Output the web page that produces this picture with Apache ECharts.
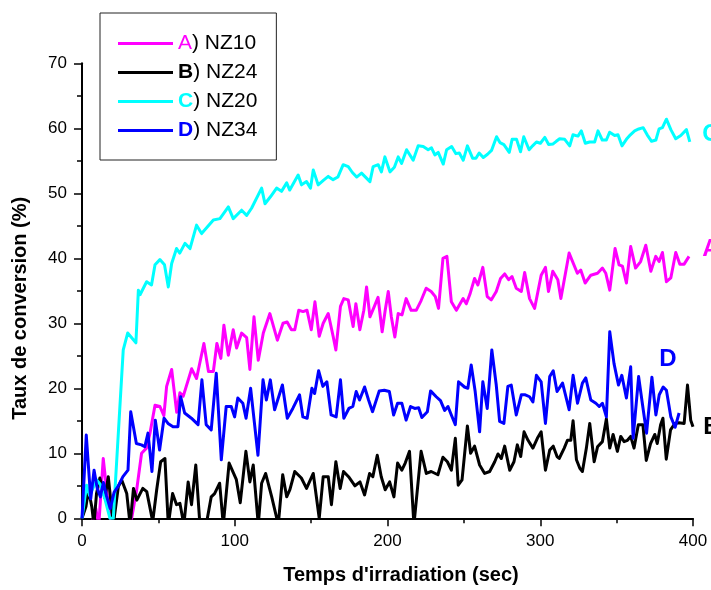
<!DOCTYPE html>
<html>
<head>
<meta charset="utf-8">
<script src="https://cdn.jsdelivr.net/npm/echarts@6/dist/echarts.min.js"></script>
<style>html,body{margin:0;padding:0;background:#fff;}#c{width:711px;height:590px;}</style>
</head>
<body>
<div id="c"></div>
<script>
// ---- data ----
const xTicks = [0, 100, 200, 300, 400];
const yTicks = [0, 10, 20, 30, 40, 50, 60, 70];
const seriesNames = ['NZ10', 'NZ24', 'NZ20', 'NZ34'];
const seriesLetters = ['A', 'B', 'C', 'D'];

// A) NZ10 (magenta)
const aX = [0,5,7.4,9,11,13.9,17.1,19.3,22,26,30.3,32.5,35.8,39,42.2,44.5,47.8,51,53.6,55.4,58.7,62,64.1,66.3,71.8,75,79.8,82.8,86,88.3,90.9,92.9,95.8,99,101.2,104.5,107.8,109.9,112.6,115.4,118.7,123,127.9,131.6,134.3,137.1,139.3,141.9,144.7,147.3,150.1,152.5,155.3,157.9,161.2,164.4,166.2,169.2,171.4,174.3,177.5,179.3,181.9,184.5,186.3,188.5,191.2,193.8,196.5,198.5,200.5,202.5,204.8,207,209.5,212.2,215.5,218.8,222,225.3,228.6,231.3,233.4,236.3,238.9,241.8,245.1,249.5,251.6,254,257,259.2,262.4,265.3,267.9,271.2,274,276.7,279.3,281.5,284.3,287.6,289.8,293,296.3,300.6,303.4,305.4,308.2,311.5,313.5,318.9,324.3,326.5,329.4,333.1,337.5,340.7,342.9,345.5,349,351.6,353.8,356.4,359.2,362.4,365.7,369.1,372.4,375.6,377.8,380,382.6,385.5,388.7,391.4,394.2,397.4];
const aY = [-3,-2,0,1.5,-1,9.2,2.3,-1,-3,-2,-1,0,4.4,10,10.8,13.1,17.4,17.2,15.8,20.3,22.9,16.3,19.3,18.8,23,21.5,26.9,22.6,22.6,26.9,24.6,29.7,25.1,29,26.2,28.5,27.8,22.9,31,24.3,28.5,31.5,27.4,30,30.2,29,29,32,31.8,32,29,33.3,28,30,31.5,28,25.9,32.6,33.8,33.6,29.5,33,29,32,35.6,31,32.5,34,28.7,32,34.9,31,27.9,31.5,31.3,33.8,32,32,33.5,35.4,34.9,34.1,32.3,40,40.3,33.3,32,33.8,33,34.5,36.9,35.9,38.6,34.1,33.6,34.9,36.9,37.6,36.7,37.2,35.4,34.9,37.8,33.8,32.3,37.4,38.6,34.9,38,36.7,33.8,40.8,37.7,38.2,36.2,37.4,37.7,38.5,37.7,35.1,41.5,39,38.8,36.2,41.8,38.5,39.5,42,38,40.3,39.5,40.9,36.4,37,40.9,39.1,39.1,40.3];

// B) NZ24 (black)
const bX = [0,2.6,4.2,6.4,7.8,9.5,11.7,15,17.2,20.5,23.8,26,29.3,31.5,33.7,35.9,39.8,42.4,46.3,48.9,51.5,54.3,56.5,59.3,61.9,64.1,66.7,69.5,71.7,74.5,77.2,81.3,84.6,86.8,90.1,92.5,96.3,101,103.6,107.3,109.9,112.1,115.4,117.6,120.2,124.2,128.5,131.4,134,136.1,139.3,143.6,147,151.4,155.3,157.9,161.2,163.3,166.2,169,171.2,174.5,178.7,182,185,188.3,190.4,193.3,195.9,198.5,201.4,204.2,206.6,209.4,211.6,214.4,217.3,222,225.4,228.6,233,236.3,239.2,241.8,244.4,246.3,248.8,252.3,254.4,257,260.3,263.6,266.9,270.2,272.3,274.5,276.7,280,282.8,285,287.2,289.4,292,295.2,298.1,300.6,303.4,306.2,308.5,311,312.4,315.7,317.8,320,321.5,323.7,325.9,327.6,330.2,332.4,335.3,337.5,340.7,343.3,345.5,347.7,350.5,352.7,354.9,357.1,359.2,361.4,364.2,367.2,369.4,372.2,375,376.6,378.8,380.3,382.5,385.3,388.2,390.9,394.2,396.4,398.5,400];
const bY = [0,1.8,4.4,1.8,-1,3.8,6.2,3.1,6.4,-1,4.9,5.9,3.8,-1,4.6,2.8,4.6,4.1,-0.5,4.4,8.7,9.2,-1,3.8,2.1,2.3,-1,5.6,2.1,8.2,-1,-1,3.3,3.8,5.4,-1,8.5,6,2.4,10.3,5.6,8.2,-1,5.4,6.9,3.3,-1,6.7,3.3,4.4,7.2,6.2,4.6,6.9,0,6.4,6.4,2.1,8.7,4.6,7.2,6.4,5,5.6,3.6,6.9,6.4,9.7,6.4,4.4,5.6,3.3,8.5,7.4,8.5,10.3,-1,10.3,6.9,7.2,6.7,9.4,8.7,7.4,12.3,5.1,5.9,14.2,10,11.1,8.2,6.9,7.2,8.7,9.9,9.2,11.1,7.4,8.7,11.3,9.5,13.3,12,10.8,12.3,13.3,7.4,10.5,11.1,9.5,9.2,10.8,12,12,15,9,7.7,7.2,10.8,14.6,8.7,11,11.8,15.3,10.8,12.9,10.3,12.6,11.8,12,12.6,10.8,14.4,14.4,8.9,11.5,12.9,11.5,14.4,15.4,9.1,13.6,14.6,14.7,14.6,20.5,15.1,14.1];

// C) NZ20 (cyan)
const cX = [0,3,5,9.6,12,15,18.3,20.5,27,29.9,35.3,36.9,38,42.3,45.5,47.8,51,54,56.5,58.7,61.9,64,67.4,70.7,75,78.3,82,86,90.3,95.8,99,104.5,107.8,111,117.6,119.8,123.5,127.4,130.6,134,136,141.5,143.7,147,149.6,151.4,154.6,158,161.2,164.4,167.5,171,174.3,177,179.8,183,188.5,190.6,193.9,196,198.3,201.6,204.5,207,209.2,212.5,216.8,220.1,223.4,226.6,228.8,231,233.2,236.5,238.7,242,244.8,247,249.6,252.3,255.7,257.9,260,262.7,265.5,268.1,271.4,273.6,276.2,279.7,281.6,284.5,287.1,289.2,292.7,295,297.5,300.1,303,305.5,308.4,310.5,312.7,316,319.3,321.4,324.7,326.9,329.5,332.3,335.6,337.8,340.6,343.3,345.4,348.7,350.9,353.5,356.4,359,361.8,364.5,367.4,370,372.9,375.7,377.8,380,382.6,385.5,388.7,392,395.7,397.9];
const cY = [0,5.1,3.5,5.9,5.2,3,0,0,25.9,28.5,27,35.1,34.4,36.4,35.9,39,39.8,39,35.6,39.2,41.5,40.8,42.3,41.5,45.1,43.8,44.8,45.9,46.1,47.9,46.1,47.4,46.6,47.7,50.8,48.4,49.5,50.8,50.3,51.6,50.5,52.8,51.3,51.8,50.8,53.6,51.3,52,52.6,52.1,52.5,54.4,54.1,53.2,52.5,53.1,51.8,54.1,54.4,53.3,55.6,53.3,54,55.6,54.6,56.7,55.1,57.3,57.2,56.7,57,55.9,56.3,54.5,56.7,57.2,56.1,56.2,55.1,57.3,55.4,55.4,56.2,55.5,56,56.6,58.7,57.8,57.5,56.3,58.3,58.3,56.4,58.7,56.7,57.3,57.9,57.7,58.6,57.5,57.6,58,58.4,58.3,57.3,59,58.8,59.6,57.7,57.9,57.9,59.6,58.2,58.2,59.4,58.9,59,57.3,58.3,59,59.6,59.9,60.1,59,58,58.2,59.9,60.1,61.4,59.8,58.4,58.9,59.8,57.9];

// D) NZ34 (blue)
const dX = [0,2.8,5.7,7.9,10,12,14,16,18.5,21,23.6,26.8,30.1,31.9,35.6,38.9,41.1,43.2,45.8,48,50.8,53.7,56.3,59.6,62.8,64.6,67.2,71.6,76,78.5,81.3,84.6,87.9,91.2,94.4,97.7,99.9,102,105.3,107.4,110.4,115.2,118.5,120.7,123.3,126.1,131.2,134.4,138,142.4,144.6,147.4,150.5,152.3,154.9,157.7,160.3,163.1,166.4,169.2,171.4,174.7,177.3,179.5,181.7,185,187.6,190.2,194.6,197.9,201.2,204,206.6,209.4,212.2,215.1,217.8,220.4,222.5,226.1,228.2,231.9,234.7,237.4,239.6,241.8,244.4,246.5,250.4,252.6,254.8,257.4,260.3,262.4,265.3,268.3,271.2,273.4,276.2,278.8,281,284.3,287.6,290.2,293,295.2,297.5,300.6,303.4,306.2,308.5,311,314.6,318.9,321.5,324.4,327.6,329.8,333.1,336.4,338.6,340.7,343.3,345.5,348.3,351.2,353.4,356.4,359.2,360.8,364.4,367,369.6,373.1,375.7,377.9,380.5,382.6,385.5,388.3,390.9];
const dY = [0,12.8,3,7.4,4.6,3.3,5.5,3.5,1.5,4,4.9,6.4,7.4,16.4,11.5,11.3,11,13.1,7.2,15.1,10.5,15.4,14.6,14.1,14.1,18.7,16.2,15.4,14.4,21.3,14.4,13.6,22.3,9,17.2,17.2,15.6,18.5,17.7,15.4,20,9.7,21.3,18.2,21.3,16.7,20.5,15.4,16.9,19,15.6,15.4,20,19.2,22.7,20.3,21,15.9,15.6,21.3,15.4,16.9,17.2,19.5,18.2,20.2,18.2,16.4,19.6,19.7,19.5,15.9,17.7,17.7,15.1,17.2,16.9,17,15.5,16.4,19.6,18.7,18.1,16.6,17.2,15.9,14.4,21,20.2,20,23.6,19.5,13.3,21,16.9,25.9,20.5,14.9,14.6,20.3,20.5,15.9,19,19,18.7,17.9,22,21,14.6,21.8,22.7,19.5,20.8,16.7,22,17.7,20.8,21.6,18.2,17.7,17.2,17.7,15.6,28.7,23.8,20.5,22,18.5,23.3,12.3,21.8,17.4,13.1,21.7,15.9,19,20.2,19.7,15.6,14,16.2];

// end-of-curve letter labels (data coordinates)
const labelCoords = [[400, 41.3], [400, 14.0], [400, 59.0], [383.5, 24.4]];

const colors = ['#ff00ff', '#000000', '#00ffff', '#0000ff'];
const allX = [aX, bX, cX, dX];
const allY = [aY, bY, cY, dY];
const labelOffsets = [[18, 0], [19, 0], [18, 0], [0, 0]];

const FONT = '"Liberation Sans", Arial, sans-serif';

const zip = (xs, ys) => xs.map((x, i) => [x, ys[i]]);

const series = seriesNames.map((name, i) => ({
  name: name,
  type: 'line',
  data: zip(allX[i], allY[i]),
  symbol: 'none',
  showSymbol: false,
  clip: true,
  lineStyle: { color: colors[i], width: 3, join: 'round' },
  itemStyle: { color: colors[i] },
  animation: false,
  markPoint: {
    symbol: 'circle',
    symbolSize: 0,
    silent: true,
    animation: false,
    label: {
      show: true,
      position: 'inside',
      offset: labelOffsets[i],
      formatter: seriesLetters[i],
      fontFamily: FONT,
      fontSize: 24,
      fontWeight: 'bold',
      color: colors[i]
    },
    data: [{ coord: labelCoords[i] }]
  }
}));

const richLetters = {
  A: { color: '#ff00ff', fontSize: 21, fontFamily: FONT, fontWeight: 'normal', lineHeight: 22 },
  B: { color: '#000000', fontSize: 21, fontFamily: FONT, fontWeight: 'bold', lineHeight: 22 },
  C: { color: '#00ffff', fontSize: 21, fontFamily: FONT, fontWeight: 'bold', lineHeight: 22 },
  D: { color: '#0000ff', fontSize: 21, fontFamily: FONT, fontWeight: 'bold', lineHeight: 22 },
  t: { color: '#000000', fontSize: 21, fontFamily: FONT, lineHeight: 22 }
};

const chart = echarts.init(document.getElementById('c'), null, { renderer: 'canvas' });
chart.setOption({
  animation: false,
  backgroundColor: '#ffffff',
  grid: { left: 82, right: 18, top: 63.3, bottom: 71.7, containLabel: false, outerBoundsMode: 'none' },
  legend: {
    show: true,
    orient: 'vertical',
    left: 100,
    top: 13,
    align: 'left',
    backgroundColor: '#ffffff',
    borderColor: '#222222',
    borderWidth: 1,
    padding: [20, 19, 19, 18],
    itemGap: 8,
    itemWidth: 55,
    itemHeight: 3,
    icon: 'rect',
    selectedMode: false,
    data: seriesNames,
    formatter: function (name) {
      const i = seriesNames.indexOf(name);
      return '{' + seriesLetters[i] + '|' + seriesLetters[i] + '}{t|) ' + name + '}';
    },
    textStyle: { fontFamily: FONT, fontSize: 21, color: '#000', rich: richLetters }
  },
  xAxis: {
    type: 'value',
    min: xTicks[0],
    max: xTicks[xTicks.length - 1],
    interval: xTicks[1] - xTicks[0],
    name: "Temps d'irradiation (sec)",
    nameLocation: 'middle',
    nameGap: 47,
    nameTextStyle: { fontFamily: FONT, fontSize: 20, fontWeight: 'bold', color: '#000', padding: [0, 0, 0, 27] },
    axisLine: { show: true, onZero: false, lineStyle: { color: '#000', width: 2 } },
    axisTick: { show: true, inside: false, length: 8, lineStyle: { color: '#000', width: 1.5 } },
    minorTick: { show: true, splitNumber: 2, length: 5, lineStyle: { color: '#000', width: 1.5 } },
    splitLine: { show: false },
    axisLabel: { margin: 15, fontFamily: FONT, fontSize: 17, color: '#000' }
  },
  yAxis: {
    type: 'value',
    min: yTicks[0],
    max: yTicks[yTicks.length - 1],
    interval: yTicks[1] - yTicks[0],
    name: 'Taux de conversion (%)',
    nameLocation: 'middle',
    nameGap: 52,
    nameTextStyle: { fontFamily: FONT, fontSize: 20, fontWeight: 'bold', color: '#000', padding: [0, 35, 0, 0] },
    axisLine: { show: true, onZero: false, lineStyle: { color: '#000', width: 2 } },
    axisTick: { show: true, inside: false, length: 8, lineStyle: { color: '#000', width: 1.5 } },
    minorTick: { show: true, splitNumber: 2, length: 5, lineStyle: { color: '#000', width: 1.5 } },
    splitLine: { show: false },
    axisLabel: { margin: 15, fontFamily: FONT, fontSize: 17, color: '#000' }
  },
  series: series
});
</script>
</body>
</html>
